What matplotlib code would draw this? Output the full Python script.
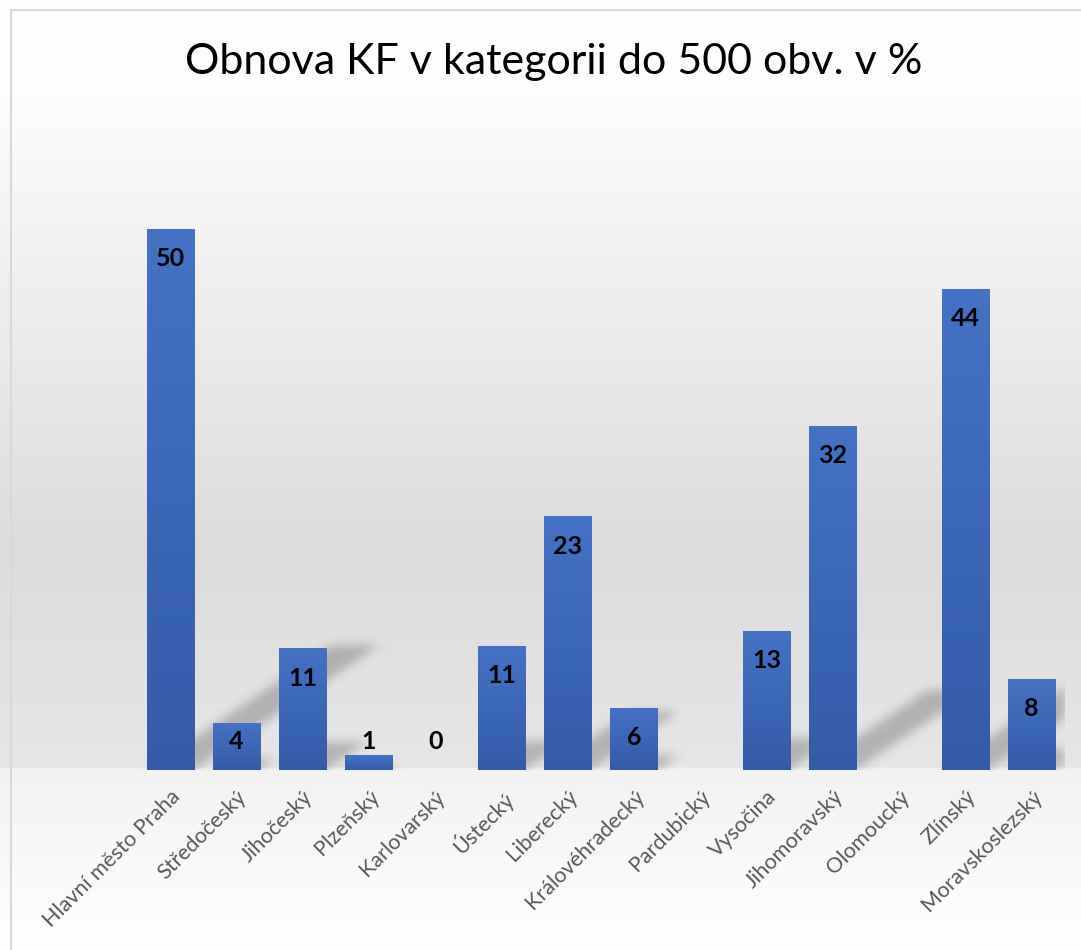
import numpy as np
import matplotlib
matplotlib.use('Agg')
import matplotlib.pyplot as plt
from matplotlib.colors import LinearSegmentedColormap

plt.rcParams['font.family'] = ['Lato', 'DejaVu Sans']

kraje = ['Hlavní město Praha', 'Středočeský', 'Jihočeský', 'Plzeňský',
         'Karlovarský', 'Ústecký', 'Liberecký', 'Královéhradecký',
         'Pardubický', 'Vysočina', 'Jihomoravský', 'Olomoucký',
         'Zlínský', 'Moravskoslezský']
obnova = [50, 4.3, 11.2, 1.3, 0, 11.4, 23.4, 5.7, np.nan, 12.8, 31.8, np.nan, 44.4, 8.4]

title = 'Obnova KF v kategorii do 500 obv. v %'


def blur(img, sigma):
    r = int(3 * sigma)
    k = np.exp(-0.5 * (np.arange(-r, r + 1) / sigma) ** 2)
    k /= k.sum()
    img = np.apply_along_axis(lambda m: np.convolve(m, k, mode='same'), 0, img)
    img = np.apply_along_axis(lambda m: np.convolve(m, k, mode='same'), 1, img)
    return img


fig = plt.figure(figsize=(10.81, 9.5), dpi=100)

# background gradient over whole figure
bg = fig.add_axes([0, 0, 1, 1], zorder=0)
bg_cmap = LinearSegmentedColormap.from_list('bg', [
    (0.0, '#ffffff'), (0.10, '#fdfdfd'), (0.30, '#efefef'),
    (0.58, '#dcdcdc'), (0.81, '#e6e6e6'), (0.812, '#f2f2f2'),
    (1.0, '#ffffff')])
grad = np.linspace(0, 1, 500).reshape(-1, 1)
bg.imshow(grad, aspect='auto', cmap=bg_cmap, extent=[0, 1, 0, 1], origin='upper')
bg.plot([0.0102, 0.0102], [0, 0.9895], color='#d9d9d9', lw=1.5)
bg.plot([0.0102, 1], [0.9895, 0.9895], color='#d9d9d9', lw=1.5)
bg.set_xlim(0, 1)
bg.set_ylim(0, 1)
bg.axis('off')

ax = fig.add_axes([0.1267, 0.1895, 0.8583, 0.6831], zorder=1)
ax.patch.set_alpha(0)

x = np.arange(len(kraje))
width = 0.71
ymax = 60

# perspective shadows behind the bars
W, H = 928, 649
sx, sy = W / len(kraje), H / ymax
gx = (np.linspace(-0.5, len(kraje) - 0.5, W) * sx)[None, :]
gy = (np.linspace(0, ymax, H) * sy)[:, None]
mask = np.zeros((H, W))
for xi, v in zip(x, obnova):
    if np.isnan(v) or v <= 0:
        continue
    hp = v * sy
    dy, dx = 0.231 * hp, 0.344 * hp
    xs = gx - gy * dx / dy
    inside = (gy <= dy) & (xs >= (xi - width / 2) * sx) & (xs <= (xi + width / 2) * sx)
    mask = np.maximum(mask, inside.astype(float))
mask = blur(mask, 5)
shadow = np.zeros((H, W, 4))
shadow[..., 3] = mask * 0.22
ax.imshow(shadow, aspect='auto', origin='lower', zorder=1.5,
          extent=[-0.5, len(kraje) - 0.5, 0, ymax])

bar_cmap = LinearSegmentedColormap.from_list('bar', ['#335ca8', '#4472c4'])
for xi, v in zip(x, obnova):
    if np.isnan(v):
        continue
    ax.bar(xi, v, width=width, color='#3d67b8', zorder=2)
    if v > 0:
        ax.imshow(np.linspace(0, 1, 100).reshape(-1, 1), cmap=bar_cmap,
                  aspect='auto', origin='lower', zorder=3,
                  extent=[xi - width / 2, xi + width / 2, 0, v])
    ax.text(xi, max(v - 2.7, 2.6), f'{round(v)}', ha='center', va='center',
            fontsize=18, fontweight='bold', color='black', zorder=4)

ax.set_xlim(-0.5, len(kraje) - 0.5)
ax.set_ylim(0, ymax)
ax.set_xticks(x)
ax.set_xticklabels(kraje, rotation=45, ha='right', rotation_mode='anchor',
                   fontsize=15.5, color='#595959')
ax.tick_params(axis='x', length=0, pad=12)
ax.set_yticks([])
for s in ax.spines.values():
    s.set_visible(False)

fig.text(0.512, 0.935, title, ha='center', va='center', fontsize=31, color='black')

fig.savefig('out.png', dpi=100)
